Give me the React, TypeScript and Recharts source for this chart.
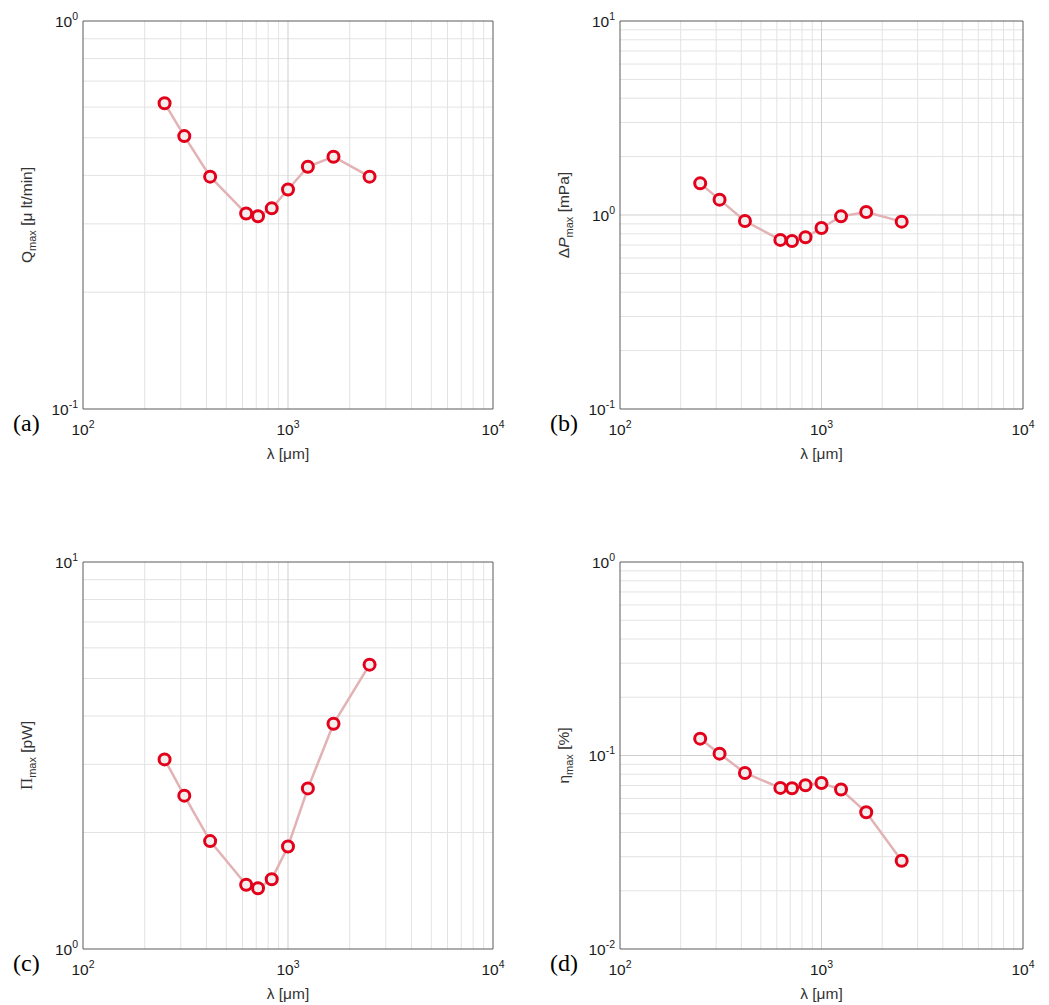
import { CartesianGrid, Line, LineChart, XAxis, YAxis } from "recharts";

// wavelength sweep (µm) shared by all four panels
const LAMBDA = [250, 312, 417, 625, 714, 833, 1000, 1250, 1667, 2500];

// peak flow rate [µl/min]
const Q_MAX = [0.614, 0.505, 0.397, 0.319, 0.314, 0.329, 0.368, 0.421, 0.447, 0.397];
// peak pressure head [mPa]
const DP_MAX = [1.456, 1.2, 0.931, 0.744, 0.735, 0.768, 0.857, 0.984, 1.036, 0.924];
// peak pumping power [pW]
const PI_MAX = [3.09, 2.49, 1.9, 1.466, 1.436, 1.515, 1.84, 2.6, 3.82, 5.43];
// peak efficiency [%]
const ETA_MAX = [0.1222, 0.1022, 0.0812, 0.068, 0.0677, 0.0702, 0.0721, 0.0667, 0.0509, 0.0286];

const X_DOMAIN: [number, number] = [100, 10000];
const X_TICKS = [100, 1000, 10000];

const Y_DOMAIN_A: [number, number] = [0.1, 1];
const Y_TICKS_A = [0.1, 1];
const Y_DOMAIN_B: [number, number] = [0.1, 10];
const Y_TICKS_B = [0.1, 1, 10];
const Y_DOMAIN_C: [number, number] = [1, 10];
const Y_TICKS_C = [1, 10];
const Y_DOMAIN_D: [number, number] = [0.01, 1];
const Y_TICKS_D = [0.01, 0.1, 1];

const SANS = "'Liberation Sans', Arial, Helvetica, sans-serif";
const SERIF = "'Liberation Serif', 'Times New Roman', serif";

const LINE_COLOR = "#e2b2b5";
const MARKER_COLOR = "#e2001a";
const MINOR_GRID = "#e3e3e3";
const MAJOR_GRID = "#cfcfcf";
const BOX_COLOR = "#5a5a5a";

const Y_AXIS_W = 60;
const X_AXIS_H = 30;

const TICK_FONT = 15.5;
const SUP_FONT = 10.5;
const TITLE_FONT = 15.5;

// 2..9 x 10^k inside each decade of a log domain
function minorValues([lo, hi]: [number, number]) {
  const out: number[] = [];
  for (let d = lo; d < hi - 1e-12; d *= 10) {
    for (let k = 2; k <= 9; k++) out.push(d * k);
  }
  return out;
}

// decade lines strictly inside the domain
function innerDecades([lo, hi]: [number, number]) {
  const out: number[] = [];
  for (let d = lo * 10; d < hi * 0.999; d *= 10) out.push(d);
  return out;
}

const expOf = (v: number) => Math.round(Math.log10(v));

function XPowerTick(props: any) {
  const { x, y, payload } = props;
  return (
    <text x={x} y={y + 26} textAnchor="middle" fontSize={TICK_FONT} fill="#1a1a1a" fontFamily={SANS}>
      10
      <tspan dy={-7} fontSize={SUP_FONT}>
        {expOf(payload.value)}
      </tspan>
    </text>
  );
}

function YPowerTick(props: any) {
  const { x, y, payload } = props;
  return (
    <text x={x - 5} y={y + 5.5} textAnchor="end" fontSize={TICK_FONT} fill="#1a1a1a" fontFamily={SANS}>
      10
      <tspan dy={-7} fontSize={SUP_FONT}>
        {expOf(payload.value)}
      </tspan>
    </text>
  );
}

interface PlotBox {
  left: number;
  top: number;
  right: number;
  bottom: number;
}

interface PanelProps {
  values: number[];
  yDomain: [number, number];
  yTicks: number[];
  title: React.ReactNode;
  tag: string;
  left: number;
  top: number;
  width: number;
  height: number;
  plot: PlotBox;
}

function Panel({ values, yDomain, yTicks, title, tag, left, top, width, height, plot }: PanelProps) {
  const data = LAMBDA.map((lambda, i) => ({ lambda, y: values[i] }));
  const yMajors = innerDecades(yDomain);

  const renderXTitle = (p: any) => {
    const vb = p.viewBox;
    return (
      <text
        x={vb.x + vb.width / 2}
        y={vb.y + 50}
        textAnchor="middle"
        fontSize={TITLE_FONT}
        fill="#333"
        fontFamily={SANS}
      >
        λ [μm]
      </text>
    );
  };

  const renderYTitle = (p: any) => {
    const vb = p.viewBox;
    const cx = vb.x + vb.width - 51;
    const cy = vb.y + vb.height / 2;
    return (
      <g>
        <text
          transform={`translate(${cx},${cy}) rotate(-90)`}
          textAnchor="middle"
          fontSize={TITLE_FONT}
          fill="#333"
          fontFamily={SANS}
        >
          {title}
        </text>
        <text
          x={vb.x + vb.width - 70}
          y={vb.y + vb.height + 22}
          fontSize={24}
          fill="#000"
          fontFamily={SERIF}
        >
          {tag}
        </text>
      </g>
    );
  };

  return (
    <div style={{ position: "absolute", left, top, width, height }}>
      <LineChart
        width={width}
        height={height}
        data={data}
        margin={{
          top: plot.top,
          right: width - plot.right,
          bottom: height - plot.bottom - X_AXIS_H,
          left: plot.left - Y_AXIS_W,
        }}
      >
        {/* minor log grid */}
        <CartesianGrid
          verticalValues={minorValues(X_DOMAIN)}
          horizontalValues={minorValues(yDomain)}
          stroke={MINOR_GRID}
        />
        {/* decade lines */}
        <CartesianGrid
          verticalValues={[1000]}
          horizontal={yMajors.length > 0}
          horizontalValues={yMajors}
          stroke={MAJOR_GRID}
        />
        {/* axes box */}
        <CartesianGrid verticalValues={X_DOMAIN} horizontalValues={yDomain} stroke={BOX_COLOR} />
        <XAxis
          dataKey="lambda"
          type="number"
          scale="log"
          domain={X_DOMAIN}
          ticks={X_TICKS}
          interval={0}
          allowDataOverflow
          height={X_AXIS_H}
          axisLine={false}
          tickLine={false}
          tickSize={0}
          tickMargin={0}
          tick={<XPowerTick />}
          label={{ content: renderXTitle }}
        />
        <YAxis
          type="number"
          scale="log"
          domain={yDomain}
          ticks={yTicks}
          interval={0}
          allowDataOverflow
          width={Y_AXIS_W}
          axisLine={false}
          tickLine={false}
          tickSize={0}
          tickMargin={0}
          tick={<YPowerTick />}
          label={{ content: renderYTitle }}
        />
        <Line
          type="linear"
          dataKey="y"
          stroke={LINE_COLOR}
          strokeWidth={2.5}
          dot={{ r: 5.5, stroke: MARKER_COLOR, strokeWidth: 3, fill: "#f3eeee" }}
          activeDot={false}
          isAnimationActive={false}
        />
      </LineChart>
    </div>
  );
}

const SUB = { fontSize: 11 };

export default function App() {
  return (
    <div
      style={{
        position: "absolute",
        left: 0,
        top: 0,
        width: 1049,
        height: 1005,
        background: "#fff",
      }}
    >
      <Panel
        values={Q_MAX}
        yDomain={Y_DOMAIN_A}
        yTicks={Y_TICKS_A}
        tag="(a)"
        left={0}
        top={0}
        width={520}
        height={500}
        plot={{ left: 83, top: 21, right: 493, bottom: 409 }}
        title={
          <>
            Q
            <tspan dy={4} {...SUB}>
              max
            </tspan>
            <tspan dy={-4}> [μ lt/min]</tspan>
          </>
        }
      />
      <Panel
        values={DP_MAX}
        yDomain={Y_DOMAIN_B}
        yTicks={Y_TICKS_B}
        tag="(b)"
        left={520}
        top={0}
        width={529}
        height={500}
        plot={{ left: 100, top: 21, right: 503, bottom: 409 }}
        title={
          <>
            Δ<tspan fontStyle="italic">P</tspan>
            <tspan dy={4} {...SUB}>
              max
            </tspan>
            <tspan dy={-4}> [mPa]</tspan>
          </>
        }
      />
      <Panel
        values={PI_MAX}
        yDomain={Y_DOMAIN_C}
        yTicks={Y_TICKS_C}
        tag="(c)"
        left={0}
        top={500}
        width={520}
        height={505}
        plot={{ left: 83, top: 62, right: 493, bottom: 449 }}
        title={
          <>
            <tspan fontFamily={SERIF} fontSize={17}>
              Π
            </tspan>
            <tspan dy={4} {...SUB}>
              max
            </tspan>
            <tspan dy={-4}> [pW]</tspan>
          </>
        }
      />
      <Panel
        values={ETA_MAX}
        yDomain={Y_DOMAIN_D}
        yTicks={Y_TICKS_D}
        tag="(d)"
        left={520}
        top={500}
        width={529}
        height={505}
        plot={{ left: 100, top: 62, right: 503, bottom: 449 }}
        title={
          <>
            η
            <tspan dy={4} {...SUB}>
              max
            </tspan>
            <tspan dy={-4}> [%]</tspan>
          </>
        }
      />
    </div>
  );
}
